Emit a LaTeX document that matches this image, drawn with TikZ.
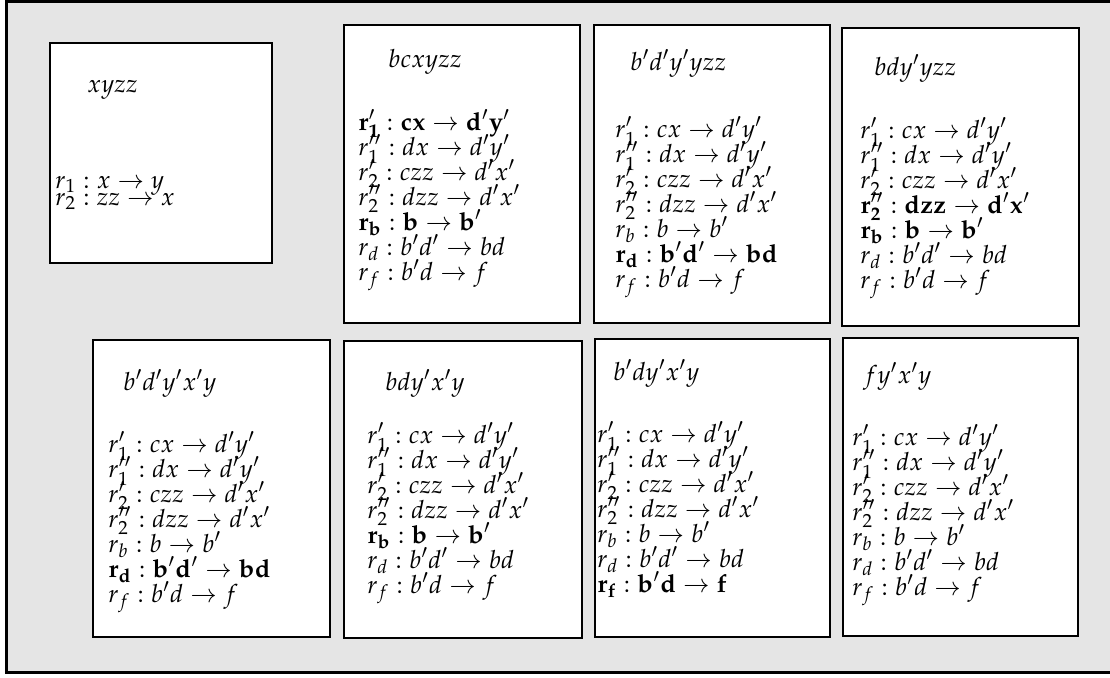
\documentclass[tikz,border=0pt]{standalone}
\usepackage{mathpazo}
\usepackage{amsmath}
\usetikzlibrary{positioning}
\newcommand\tightlines[1]{\fontsize{12.5}{#1}\selectfont\lineskiplimit=-30pt\relax\lineskip=0pt\relax}
\begin{document}
\begin{tikzpicture}[x=0.5pt,y=-0.5pt,
  state/.style={draw=black, line width=0.7pt, fill=white},
  word/.style={anchor=base west, inner sep=0pt, font=\fontsize{12.5}{12.5}\selectfont},
  rules/.style={anchor=base west, inner sep=0pt, align=left,
    font=\tightlines{12.5}}]
  \path[use as bounding box] (0,0) rectangle (1110,677);
  \clip (0,0) rectangle (1110,677);
  \draw[line width=1.6pt, fill=black!10] (6.5,1.5) rectangle (1130,672.5);
  % corners of the boxes
  \coordinate (s1) at (50,43);
  \coordinate (s2) at (344,25);
  \coordinate (s3) at (594,25);
  \coordinate (s4) at (842,28);
  \coordinate (s5) at (93,340);
  \coordinate (s6) at (344,341);
  \coordinate (s7) at (595,339);
  \coordinate (s8) at (843,338);
  \draw[state] (s1) rectangle ++(222,220);
  \draw[state] (s2) rectangle ++(236,298);
  \draw[state] (s3) rectangle ++(236,298);
  \draw[state] (s4) rectangle ++(237,298);
  \draw[state] (s5) rectangle ++(237,297);
  \draw[state] (s6) rectangle ++(238,297);
  \draw[state] (s7) rectangle ++(235,298);
  \draw[state] (s8) rectangle ++(235,298);
  % words
  \node[word] (w1) at ([shift={(37,49)}]s1) {$xyzz$};
  \node[word] (w2) at ([shift={(44,42)}]s2) {$bcxyzz$};
  \node[word] (w3) at ([shift={(36,45)}]s3) {$b'd'y'yzz$};
  \node[word] (w4) at ([shift={(32,47)}]s4) {$bdy'yzz$};
  \node[word] (w5) at ([shift={(30,50)}]s5) {$b'd'y'x'y$};
  \node[word] (w6) at ([shift={(41,49)}]s6) {$bdy'x'y$};
  \node[word] (w7) at ([shift={(18,41)}]s7) {$b'dy'x'y$};
  \node[word] (w8) at ([shift={(20,45)}]s8) {$fy'x'y$};
  % rule lists (anchored at the last line)
  \node[rules, font=\tightlines{8.5}] (l1) at ([shift={(5,162)}]s1)
    {$r_1 : x \to y$\\ $r_2 : zz \to x$};
  \node[rules] (l2) at ([shift={(14,255)}]s2)
    {$\mathbf{r'_1 : cx \to d'y'}$\\ $r''_1 : dx \to d'y'$\\
     $r'_2 : czz \to d'x'$\\ $r''_2 : dzz \to d'x'$\\
     $\mathbf{r_b : b \to b'}$\\ $r_d : b'd' \to bd$\\ $r_f : b'd \to f$};
  \node[rules] (l3) at ([shift={(21,262)}]s3)
    {$r'_1 : cx \to d'y'$\\ $r''_1 : dx \to d'y'$\\
     $r'_2 : czz \to d'x'$\\ $r''_2 : dzz \to d'x'$\\
     $r_b : b \to b'$\\ $\mathbf{r_d : b'd' \to bd}$\\ $r_f : b'd \to f$};
  \node[rules] (l4) at ([shift={(18,260)}]s4)
    {$r'_1 : cx \to d'y'$\\ $r''_1 : dx \to d'y'$\\
     $r'_2 : czz \to d'x'$\\ $\mathbf{r''_2 : dzz \to d'x'}$\\
     $\mathbf{r_b : b \to b'}$\\ $r_d : b'd' \to bd$\\ $r_f : b'd \to f$};
  \node[rules] (l5) at ([shift={(15,262)}]s5)
    {$r'_1 : cx \to d'y'$\\ $r''_1 : dx \to d'y'$\\
     $r'_2 : czz \to d'x'$\\ $r''_2 : dzz \to d'x'$\\
     $r_b : b \to b'$\\ $\mathbf{r_d : b'd' \to bd}$\\ $r_f : b'd \to f$};
  \node[rules] (l6) at ([shift={(23,252)}]s6)
    {$r'_1 : cx \to d'y'$\\ $r''_1 : dx \to d'y'$\\
     $r'_2 : czz \to d'x'$\\ $r''_2 : dzz \to d'x'$\\
     $\mathbf{r_b : b \to b'}$\\ $r_d : b'd' \to bd$\\ $r_f : b'd \to f$};
  \node[rules] (l7) at ([shift={(2,253)}]s7)
    {$r'_1 : cx \to d'y'$\\ $r''_1 : dx \to d'y'$\\
     $r'_2 : czz \to d'x'$\\ $r''_2 : dzz \to d'x'$\\
     $r_b : b \to b'$\\ $r_d : b'd' \to bd$\\ $\mathbf{r_f : b'd \to f}$};
  \node[rules] (l8) at ([shift={(9,257)}]s8)
    {$r'_1 : cx \to d'y'$\\ $r''_1 : dx \to d'y'$\\
     $r'_2 : czz \to d'x'$\\ $r''_2 : dzz \to d'x'$\\
     $r_b : b \to b'$\\ $r_d : b'd' \to bd$\\ $r_f : b'd \to f$};
\end{tikzpicture}
\end{document}
